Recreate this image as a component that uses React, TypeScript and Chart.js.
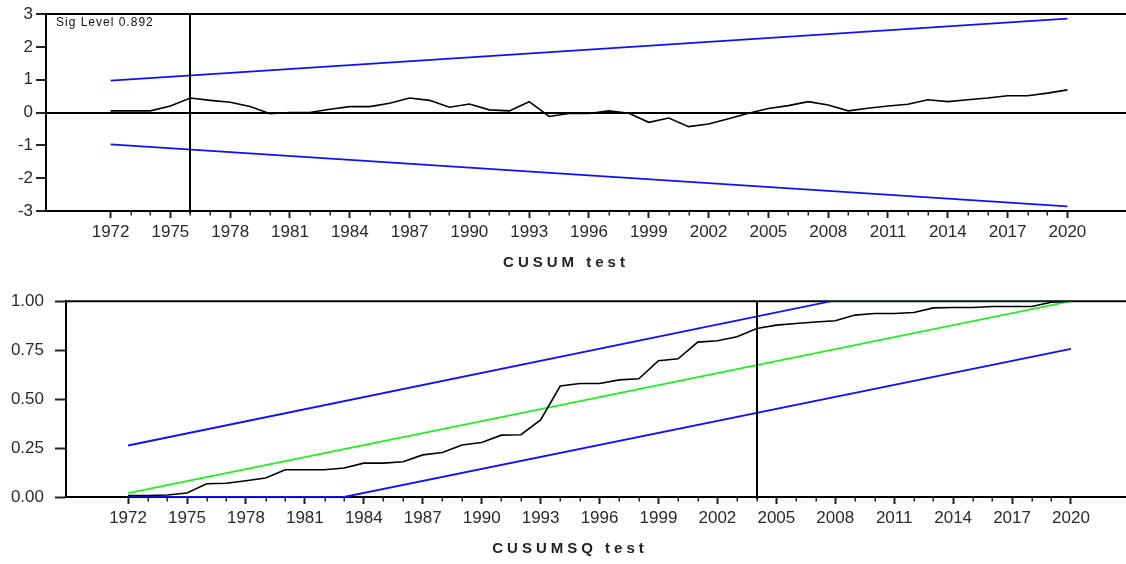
import React, { useEffect, useRef } from "react";
import { Chart, registerables } from "chart.js";

Chart.register(...registerables);

// ---------------- data ----------------
const years = [
  1972, 1973, 1974, 1975, 1976, 1977, 1978, 1979, 1980, 1981, 1982, 1983, 1984,
  1985, 1986, 1987, 1988, 1989, 1990, 1991, 1992, 1993, 1994, 1995, 1996, 1997,
  1998, 1999, 2000, 2001, 2002, 2003, 2004, 2005, 2006, 2007, 2008, 2009, 2010,
  2011, 2012, 2013, 2014, 2015, 2016, 2017, 2018, 2019, 2020,
];

const cusum = [
  0.05, 0.05, 0.05, 0.2, 0.44, 0.37, 0.31, 0.18, -0.04, 0.0, 0.0, 0.1, 0.18,
  0.18, 0.28, 0.44, 0.37, 0.16, 0.26, 0.08, 0.05, 0.33, -0.12, -0.03, -0.03, 0.05,
  -0.02, -0.3, -0.17, -0.43, -0.35, -0.19, -0.02, 0.12, 0.21, 0.33, 0.23, 0.05, 0.13,
  0.2, 0.25, 0.39, 0.33, 0.39, 0.44, 0.51, 0.51, 0.59, 0.69,
];

const cusumBoundYears = [1972, 2020];
const cusumUpper = [0.97, 2.86];
const cusumLower = [-0.97, -2.86];

const cusumsq = [
  0.008, 0.008, 0.01, 0.02, 0.068, 0.07, 0.083, 0.097, 0.139, 0.139, 0.139, 0.148, 0.173,
  0.173, 0.18, 0.215, 0.227, 0.266, 0.278, 0.316, 0.318, 0.394, 0.567, 0.58, 0.58, 0.598,
  0.604, 0.696, 0.706, 0.791, 0.798, 0.818, 0.861, 0.878, 0.886, 0.894, 0.9, 0.929, 0.937,
  0.937, 0.942, 0.966, 0.968, 0.968, 0.973, 0.973, 0.973, 0.995, 1.0,
];

const sqMeanYears = [1972, 2020];
const sqMean = [0.02, 1.0];
const sqUpperYears = [1972, 2007.8, 2020];
const sqUpper = [0.263, 1.0, 1.0];
const sqLowerYears = [1972, 1983.0, 2020];
const sqLower = [0.0, 0.0, 0.757];

const tickYears = years;
const labelEvery = 3;
const cusumYTicks = [-3, -2, -1, 0, 1, 2, 3];
const cusumsqYTicks = [0, 0.25, 0.5, 0.75, 1.0];

const cusumBreakYear = 1976;
const cusumsqBreakYear = 2004;
const sigLevelText = "Sig Level 0.892";
const cusumTitle = "CUSUM test";
const cusumsqTitle = "CUSUMSQ test";

// ---------------- helpers ----------------
const FONT = "'Liberation Sans', Arial, sans-serif";
const pts = (xs: number[], ys: number[]) => xs.map((x, i) => ({ x, y: ys[i] }));

type Extra = {
  breakYear: number;
  title: string;
  titleX: number;
  titleY: number;
  sig?: string;
};

function makePlugin(extra: Extra) {
  return {
    id: "decor",
    beforeDatasetsDraw(chart: any) {
      const { ctx, chartArea } = chart;
      const xs = chart.scales.x;
      ctx.save();
      ctx.strokeStyle = "#000";
      ctx.lineWidth = 2;
      ctx.beginPath();
      ctx.moveTo(chartArea.left, chartArea.top);
      ctx.lineTo(chartArea.right, chartArea.top);
      ctx.stroke();
      // minor ticks
      ctx.lineWidth = 1.5;
      ctx.strokeStyle = "#222";
      ctx.beginPath();
      for (const y of tickYears) {
        if ((y - tickYears[0]) % labelEvery !== 0) {
          const px = Math.round(xs.getPixelForValue(y)) + 0.25;
          ctx.moveTo(px, chartArea.bottom);
          ctx.lineTo(px, chartArea.bottom + 4.5);
        }
      }
      ctx.stroke();
      ctx.restore();
    },
    afterDatasetsDraw(chart: any) {
      const { ctx, chartArea } = chart;
      const xs = chart.scales.x;
      ctx.save();
      const px = Math.round(xs.getPixelForValue(extra.breakYear));
      ctx.strokeStyle = "#000";
      ctx.lineWidth = 2;
      ctx.beginPath();
      ctx.moveTo(px, chartArea.top);
      ctx.lineTo(px, chartArea.bottom + 2);
      ctx.stroke();
      if (extra.sig) {
        ctx.fillStyle = "#111";
        ctx.font = `12px ${FONT}`;
        (ctx as any).letterSpacing = "1px";
        ctx.textAlign = "left";
        ctx.textBaseline = "alphabetic";
        ctx.fillText(extra.sig, chartArea.left + 10, chartArea.top + 12);
      }
      ctx.restore();
    },
    afterDraw(chart: any) {
      const { ctx } = chart;
      ctx.save();
      ctx.fillStyle = "#222";
      ctx.font = `bold 15px ${FONT}`;
      (ctx as any).letterSpacing = "4px";
      ctx.textAlign = "center";
      ctx.textBaseline = "middle";
      ctx.fillText(extra.title, extra.titleX, extra.titleY);
      ctx.restore();
    },
  };
}

function xScale(min: number, max: number, height: number) {
  return {
    type: "linear",
    min,
    max,
    afterBuildTicks: (s: any) => {
      s.ticks = tickYears.map((v) => ({ value: v }));
    },
    afterFit: (s: any) => {
      s.height = height;
    },
    ticks: {
      autoSkip: false,
      maxRotation: 0,
      padding: 4,
      color: "#2a2a2a",
      font: { family: FONT, size: 17 },
      callback: (v: any) => ((v - tickYears[0]) % labelEvery === 0 ? String(v) : ""),
    },
    grid: {
      display: true,
      drawOnChartArea: false,
      drawTicks: true,
      tickLength: 7,
      tickWidth: 2,
      tickColor: (c: any) =>
        c.tick && (c.tick.value - tickYears[0]) % labelEvery === 0 ? "#222" : "rgba(0,0,0,0)",
    },
    border: { display: true, color: "#000", width: 2 },
  };
}

function buildConfig(kind: "cusum" | "cusumsq") {
  if (kind === "cusum") {
    return {
      type: "line",
      data: {
        datasets: [
          {
            data: pts(years, cusum),
            borderColor: "#000",
            borderWidth: 1.6,
            pointRadius: 0,
            tension: 0,
          },
          {
            data: pts(cusumBoundYears, cusumUpper),
            borderColor: "#1010ff",
            borderWidth: 1.8,
            pointRadius: 0,
          },
          {
            data: pts(cusumBoundYears, cusumLower),
            borderColor: "#1010ff",
            borderWidth: 1.8,
            pointRadius: 0,
          },
        ],
      },
      options: {
        responsive: false,
        animation: false,
        devicePixelRatio: 1,
        layout: { padding: { top: 14, left: 0, right: 0, bottom: 0 } },
        plugins: { legend: { display: false }, tooltip: { enabled: false } },
        scales: {
          x: xScale(1968.76, 2022.94, 69),
          y: {
            type: "linear",
            min: -3,
            max: 3,
            afterBuildTicks: (s: any) => {
              s.ticks = cusumYTicks.map((v) => ({ value: v }));
            },
            afterFit: (s: any) => {
              s.width = 46;
            },
            ticks: {
              padding: 3,
              color: "#2a2a2a",
              font: { family: FONT, size: 17 },
              callback: (v: any) => String(v),
            },
            grid: {
              display: true,
              drawOnChartArea: true,
              drawTicks: true,
              tickLength: 10,
              tickWidth: 2,
              tickColor: "#222",
              lineWidth: 2,
              color: (c: any) => (c.tick && c.tick.value === 0 ? "#000" : "rgba(0,0,0,0)"),
            },
            border: { display: true, color: "#000", width: 2 },
          },
        },
      },
      plugins: [
        makePlugin({
          breakYear: cusumBreakYear,
          title: cusumTitle,
          titleX: 566,
          titleY: 263,
          sig: sigLevelText,
        }),
      ],
    };
  }
  return {
    type: "line",
    data: {
      datasets: [
        {
          data: pts(years, cusumsq),
          borderColor: "#000",
          borderWidth: 1.6,
          pointRadius: 0,
          tension: 0,
        },
        {
          data: pts(sqMeanYears, sqMean),
          borderColor: "#22ee22",
          borderWidth: 1.8,
          pointRadius: 0,
        },
        {
          data: pts(sqUpperYears, sqUpper),
          borderColor: "#1010ff",
          borderWidth: 1.8,
          pointRadius: 0,
        },
        {
          data: pts(sqLowerYears, sqLower),
          borderColor: "#1010ff",
          borderWidth: 1.8,
          pointRadius: 0,
        },
      ],
    },
    options: {
      responsive: false,
      animation: false,
      devicePixelRatio: 1,
      layout: { padding: { top: 21, left: 0, right: 0, bottom: 0 } },
      plugins: { legend: { display: false }, tooltip: { enabled: false } },
      scales: {
        x: xScale(1968.84, 2022.8, 67),
        y: {
          type: "linear",
          min: 0,
          max: 1,
          afterBuildTicks: (s: any) => {
            s.ticks = cusumsqYTicks.map((v) => ({ value: v }));
          },
          afterFit: (s: any) => {
            s.width = 66;
          },
          ticks: {
            padding: 11,
            color: "#2a2a2a",
            font: { family: FONT, size: 17 },
            callback: (v: any) => Number(v).toFixed(2),
          },
          grid: {
            display: true,
            drawOnChartArea: false,
            drawTicks: true,
            tickLength: 11,
            tickWidth: 2,
            tickColor: "#222",
          },
          border: { display: true, color: "#000", width: 2 },
        },
      },
    },
    plugins: [
      makePlugin({
        breakYear: cusumsqBreakYear,
        title: cusumsqTitle,
        titleX: 570,
        titleY: 269,
      }),
    ],
  };
}

export default function App() {
  const topRef = useRef<HTMLCanvasElement | null>(null);
  const botRef = useRef<HTMLCanvasElement | null>(null);

  useEffect(() => {
    const c1 = new Chart(topRef.current as any, buildConfig("cusum") as any);
    const c2 = new Chart(botRef.current as any, buildConfig("cusumsq") as any);
    return () => {
      c1.destroy();
      c2.destroy();
    };
  }, []);

  return (
    <div
      style={{
        position: "fixed",
        left: 0,
        top: 0,
        width: 1126,
        height: 564,
        overflow: "hidden",
        background: "#fff",
      }}
    >
      <canvas
        ref={topRef}
        width={1126}
        height={280}
        style={{ position: "absolute", left: 0, top: 0, width: 1126, height: 280 }}
      />
      <canvas
        ref={botRef}
        width={1126}
        height={284}
        style={{ position: "absolute", left: 0, top: 280, width: 1126, height: 284 }}
      />
    </div>
  );
}
